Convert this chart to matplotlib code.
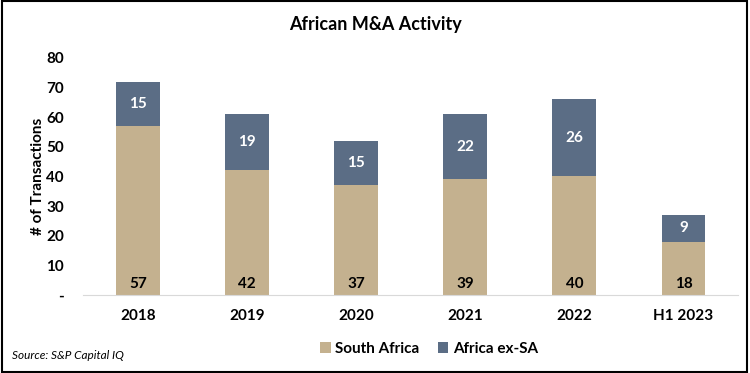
import matplotlib.pyplot as plt
from matplotlib.patches import Rectangle

plt.rcParams['font.family'] = ['Lato', 'DejaVu Sans']

# dados
anos = ['2018', '2019', '2020', '2021', '2022', 'H1 2023']
south_africa = [57, 42, 37, 39, 40, 18]
africa_ex_sa = [15, 19, 15, 22, 26, 9]

cor_sa = '#C4B18F'
cor_ex = '#5B6D85'

fig = plt.figure(figsize=(7.5, 3.73), dpi=100)
ax = fig.add_axes([0.111, 0.209, 0.873, 0.636])

x = range(len(anos))
b1 = ax.bar(x, south_africa, width=0.4, color=cor_sa, label='South Africa')
b2 = ax.bar(x, africa_ex_sa, width=0.4, bottom=south_africa, color=cor_ex, label='Africa ex-SA')

# rotulos
for i in x:
    ax.text(i, 1.5, str(south_africa[i]), ha='center', va='bottom',
            fontsize=11, fontweight='bold', color='black')
    ax.text(i, south_africa[i] + africa_ex_sa[i] / 2, str(africa_ex_sa[i]),
            ha='center', va='center', fontsize=11, fontweight='bold', color='white')

ax.set_ylim(0, 80)
ax.set_xlim(-0.5, len(anos) - 0.5)
ax.set_yticks(range(0, 81, 10))
ax.set_yticklabels(['-'] + [str(v) for v in range(10, 81, 10)])
ax.set_xticks(list(x))
ax.set_xticklabels(anos)
for lbl in ax.get_xticklabels() + ax.get_yticklabels():
    lbl.set_fontweight('bold')
    lbl.set_fontsize(11)
ax.tick_params(axis='both', length=0)
ax.tick_params(axis='x', pad=10)
ax.tick_params(axis='y', pad=14)
for s in ['top', 'right', 'left']:
    ax.spines[s].set_visible(False)
ax.spines['bottom'].set_color('#D9D9D9')
ax.set_ylabel('# of Transactions', fontsize=11, fontweight='bold', labelpad=1)

fig.text(0.5, 0.933, 'African M&A Activity', ha='center', va='center',
         fontsize=13, fontweight='bold')
fig.text(0.016, 0.048, 'Source: S&P Capital IQ', ha='left', va='center',
         fontsize=8.5, style='italic')

leg = fig.legend(handles=[b1, b2], loc='center', bbox_to_anchor=(0.572, 0.065),
                 ncol=2, frameon=False, handlelength=0.7, handleheight=0.7,
                 handletextpad=0.3, columnspacing=1.2,
                 prop={'weight': 'bold', 'size': 11})

# borda
fig.add_artist(Rectangle((0.002, 0.003), 0.994, 0.993, transform=fig.transFigure,
                         fill=False, edgecolor='black', linewidth=1.5))

fig.savefig('out.png', dpi=100)
